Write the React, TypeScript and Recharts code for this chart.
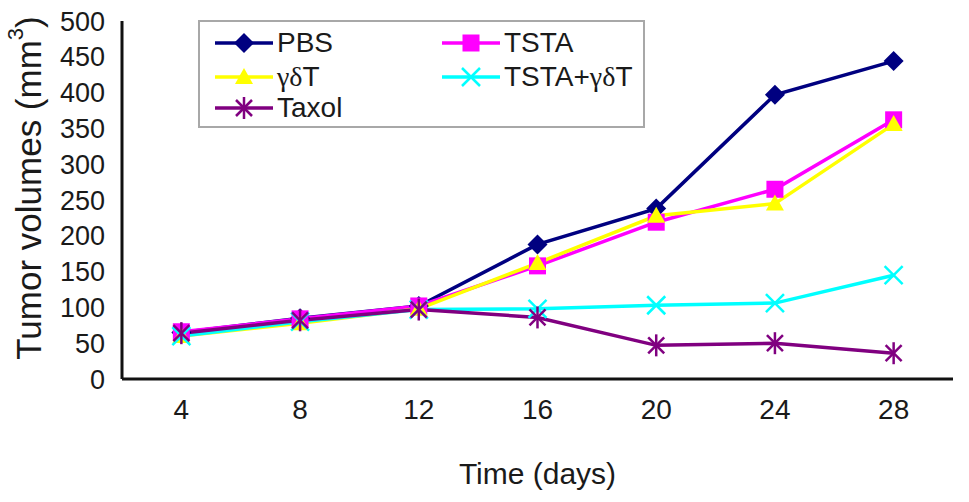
import React from 'react';
import { LineChart, Line, XAxis, YAxis, Legend } from 'recharts';

const days = [4, 8, 12, 16, 20, 24, 28];
const pbs = [65, 85, 102, 188, 238, 397, 444];
const tsta = [66, 84, 102, 158, 219, 265, 362];
const gdt = [60, 78, 98, 162, 228, 245, 356];
const combo = [60, 80, 97, 98, 103, 106, 145];
const taxol = [64, 82, 97, 86, 47, 50, 36];
const yTicks = [0, 50, 100, 150, 200, 250, 300, 350, 400, 450, 500];
const xTickMarks = [2, 6, 10, 14, 18, 22, 26, 30];

const data = days.map((d, i) => ({
  day: d,
  pbs: pbs[i],
  tsta: tsta[i],
  gdt: gdt[i],
  combo: combo[i],
  taxol: taxol[i],
}));

type Shape = 'diamond' | 'square' | 'triangle' | 'cross' | 'star';

const SERIES: { key: string; name: string; color: string; shape: Shape }[] = [
  { key: 'pbs', name: 'PBS', color: '#000080', shape: 'diamond' },
  { key: 'tsta', name: 'TSTA', color: '#FF00FF', shape: 'square' },
  { key: 'gdt', name: 'γδT', color: '#FFFF00', shape: 'triangle' },
  { key: 'combo', name: 'TSTA+γδT', color: '#00FFFF', shape: 'cross' },
  { key: 'taxol', name: 'Taxol', color: '#800080', shape: 'star' },
];

const FONT = '"Liberation Sans", Arial, sans-serif';
const SERIF = '"Liberation Serif", "Times New Roman", serif';

function Marker({ shape, color, cx, cy }: { shape: Shape; color: string; cx: number; cy: number }) {
  if (cx == null || cy == null) return null;
  switch (shape) {
    case 'diamond':
      return <polygon points={`${cx},${cy - 10} ${cx + 10},${cy} ${cx},${cy + 10} ${cx - 10},${cy}`} fill={color} />;
    case 'square':
      return <rect x={cx - 8.5} y={cy - 8.5} width={17} height={17} fill={color} />;
    case 'triangle':
      return <polygon points={`${cx},${cy - 9} ${cx + 9},${cy + 7} ${cx - 9},${cy + 7}`} fill={color} />;
    case 'cross':
      return (
        <g stroke={color} strokeWidth={2.5}>
          <line x1={cx - 9} y1={cy - 9} x2={cx + 9} y2={cy + 9} />
          <line x1={cx - 9} y1={cy + 9} x2={cx + 9} y2={cy - 9} />
        </g>
      );
    case 'star':
      return (
        <g stroke={color} strokeWidth={2.5}>
          <line x1={cx - 8} y1={cy - 8} x2={cx + 8} y2={cy + 8} />
          <line x1={cx - 8} y1={cy + 8} x2={cx + 8} y2={cy - 8} />
          <line x1={cx} y1={cy - 11} x2={cx} y2={cy + 11} />
        </g>
      );
  }
  return null;
}

function renderName(name: string) {
  const m = name.match(/^(.*?)(γδ)(.*)$/);
  if (!m) return name;
  return (
    <>
      {m[1]}
      <span style={{ fontFamily: SERIF }}>{m[2]}</span>
      {m[3]}
    </>
  );
}

const LEGEND_POS = [
  { left: 17, top: 23 },
  { left: 244, top: 23 },
  { left: 17, top: 57 },
  { left: 244, top: 57 },
  { left: 17, top: 88 },
];

function LegendBox() {
  return (
    <div
      style={{
        position: 'relative',
        width: 447,
        height: 108,
        boxSizing: 'border-box',
        border: '2px solid #a8a8a8',
        background: '#fff',
        fontFamily: FONT,
      }}
    >
      {SERIES.map((s, i) => (
        <div
          key={s.key}
          style={{
            position: 'absolute',
            left: LEGEND_POS[i].left - 2,
            top: LEGEND_POS[i].top - 2 - 15,
            height: 30,
            display: 'flex',
            alignItems: 'center',
            whiteSpace: 'nowrap',
          }}
        >
          <svg width={58} height={30} style={{ display: 'block' }}>
            <line x1={0} y1={15} x2={58} y2={15} stroke={s.color} strokeWidth={3.5} />
            <Marker shape={s.shape} color={s.color} cx={29} cy={15} />
          </svg>
          <span style={{ marginLeft: 4, fontSize: 28, color: '#1a1a1a', lineHeight: '30px' }}>{renderName(s.name)}</span>
        </div>
      ))}
    </div>
  );
}

function YTitle(props: any) {
  const vb = props.viewBox || {};
  const cx = (vb.x || 0) + 28;
  const cy = (vb.y || 0) + (vb.height || 0) / 2 - 12;
  return (
    <text
      x={cx}
      y={cy}
      transform={`rotate(-90, ${cx}, ${cy})`}
      textAnchor="middle"
      dominantBaseline="central"
      fontFamily={FONT}
      fontSize={35}
      fill="#1a1a1a"
    >
      Tumor volumes (mm
      <tspan dy={-13} fontSize={22}>3</tspan>
      <tspan dy={13}>)</tspan>
    </text>
  );
}

function XTitle(props: any) {
  const vb = props.viewBox || {};
  const cx = (vb.x || 0) + (vb.width || 0) / 2;
  const cy = (vb.y || 0) + 105;
  return (
    <text x={cx} y={cy} textAnchor="middle" fontFamily={FONT} fontSize={30} fill="#1a1a1a">
      Time (days)
    </text>
  );
}

export default function App() {
  return (
    <div style={{ position: 'absolute', left: 0, top: 0, width: 969, height: 502, background: '#fff' }}>
      <LineChart width={969} height={502} data={data} margin={{ top: 21, right: 16, bottom: 0, left: 0 }}>
        <XAxis
          xAxisId="main"
          dataKey="day"
          type="number"
          domain={[2, 30]}
          allowDataOverflow
          ticks={days}
          height={123}
          tickLine={false}
          tickSize={0}
          tickMargin={20}
          axisLine={{ stroke: '#111', strokeWidth: 3 }}
          tick={{ fontSize: 28, fill: '#1a1a1a', fontFamily: FONT }}
          label={<XTitle />}
        />
        <XAxis
          xAxisId="marks"
          type="number"
          domain={[2, 30]}
          allowDataOverflow
          ticks={xTickMarks}
          mirror
          height={0}
          tick={false}
          tickSize={10}
          axisLine={false}
          tickLine={{ stroke: '#111', strokeWidth: 3 }}
        />
        <YAxis
          yAxisId="main"
          type="number"
          domain={[0, 500]}
          allowDataOverflow
          ticks={yTicks}
          interval={0}
          width={122}
          tickLine={false}
          tickSize={0}
          tickMargin={17}
          axisLine={{ stroke: '#111', strokeWidth: 3 }}
          tick={{ fontSize: 27, fill: '#1a1a1a', fontFamily: FONT }}
          label={<YTitle />}
        />
        <YAxis
          yAxisId="marks"
          type="number"
          domain={[0, 500]}
          allowDataOverflow
          ticks={yTicks}
          interval={0}
          mirror
          width={0}
          tick={false}
          tickSize={9}
          axisLine={false}
          tickLine={{ stroke: '#111', strokeWidth: 3 }}
        />
        <Legend
          layout="vertical"
          align="center"
          verticalAlign="middle"
          wrapperStyle={{ left: 198, top: 20, width: 447, height: 108 }}
          content={() => <LegendBox />}
        />
        {SERIES.map((s) => (
          <Line
            key={s.key}
            xAxisId="main"
            yAxisId="main"
            dataKey={s.key}
            name={s.name}
            stroke={s.color}
            strokeWidth={3.5}
            isAnimationActive={false}
            dot={(p: any) => <Marker key={`${s.key}-${p.index}`} shape={s.shape} color={s.color} cx={p.cx} cy={p.cy} />}
            activeDot={false}
          />
        ))}
      </LineChart>
    </div>
  );
}
